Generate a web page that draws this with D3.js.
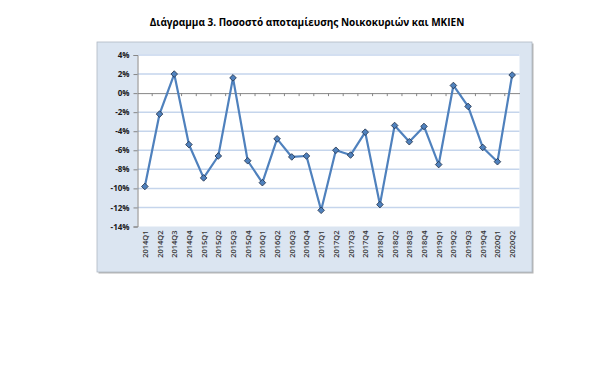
<!DOCTYPE html>
<html>
<head>
	<meta charset="utf-8">
	<script src="https://cdn.jsdelivr.net/npm/d3@7"></script>
	<style>
		html, body {
			padding: 0;
			margin: 0;
			background: #ffffff;
		}
		text {
			font-family: "Open Sans", "Noto Sans", sans-serif;
		}
	</style>
</head>
<body>
	<script>
		var width = 600, height = 377;

		// data
		var quarters = ["2014Q1", "2014Q2", "2014Q3", "2014Q4",
			"2015Q1", "2015Q2", "2015Q3", "2015Q4",
			"2016Q1", "2016Q2", "2016Q3", "2016Q4",
			"2017Q1", "2017Q2", "2017Q3", "2017Q4",
			"2018Q1", "2018Q2", "2018Q3", "2018Q4",
			"2019Q1", "2019Q2", "2019Q3", "2019Q4",
			"2020Q1", "2020Q2"];
		var savingRate = [-9.8, -2.2, 2.0, -5.4,
			-8.9, -6.6, 1.6, -7.1,
			-9.4, -4.8, -6.7, -6.6,
			-12.3, -6.0, -6.5, -4.1,
			-11.7, -3.4, -5.1, -3.5,
			-7.5, 0.8, -1.4, -5.7,
			-7.2, 1.9];
		var yTicks = [4, 2, 0, -2, -4, -6, -8, -10, -12, -14];
		var title = "Διάγραμμα 3. Ποσοστό αποταμίευσης Νοικοκυριών και ΜΚΙΕΝ";

		var svg = d3.select("body").append("svg")
			.attr("width", width)
			.attr("height", height);

		svg.append("text")
			.attr("x", 307)
			.attr("y", 26)
			.attr("text-anchor", "middle")
			.style("font-size", "10px")
			.style("font-weight", "bold")
			.attr("fill", "#000")
			.text(title);

		// outer chart frame (with a slight shadow on right/bottom)
		svg.append("rect")
			.attr("x", 98.5).attr("y", 43.5)
			.attr("width", 435).attr("height", 230)
			.attr("fill", "#b5b5b5");
		svg.append("rect")
			.attr("x", 97).attr("y", 42)
			.attr("width", 435).attr("height", 230)
			.attr("fill", "#dbe5f1")
			.attr("stroke", "#b0b8c4")
			.attr("stroke-width", 0.8);

		var plot = {left: 137.5, right: 519.5, top: 55, bottom: 226.5};

		svg.append("rect")
			.attr("x", plot.left).attr("y", plot.top - 1)
			.attr("width", plot.right - plot.left)
			.attr("height", plot.bottom - plot.top + 1)
			.attr("fill", "#ffffff");

		var x = d3.scaleBand()
			.domain(quarters)
			.range([plot.left, plot.right]);

		var y = d3.scaleLinear()
			.domain([-14, 4])
			.range([plot.bottom, plot.top]);

		// gridlines
		svg.append("g")
			.selectAll("line")
			.data(yTicks.filter(function(d) { return d !== 0 && d !== -14; }))
			.enter().append("line")
			.attr("x1", plot.left).attr("x2", plot.right)
			.attr("y1", function(d) { return y(d); })
			.attr("y2", function(d) { return y(d); })
			.attr("stroke", "#c5d5ec")
			.attr("stroke-width", 1.5);

		// y axis
		var yAxis = svg.append("g")
			.attr("transform", "translate(" + plot.left + ",0)")
			.call(d3.axisLeft(y)
				.tickValues(yTicks)
				.tickSize(4)
				.tickPadding(4)
				.tickFormat(function(d) { return d + "%"; }));
		yAxis.select(".domain").attr("stroke", "#868686");
		yAxis.selectAll(".tick line").attr("stroke", "#868686");
		yAxis.selectAll("text")
			.style("font-size", "8px")
			.style("font-weight", "bold")
			.attr("fill", "#1a1a1a");

		// x axis line at 0%
		var xAxis = svg.append("g")
			.attr("transform", "translate(0," + y(0) + ")")
			.call(d3.axisBottom(x).tickSize(0).tickFormat(""));
		xAxis.select(".domain").attr("stroke", "#868686");
		svg.append("g")
			.selectAll("line")
			.data(quarters.slice(1))
			.enter().append("line")
			.attr("x1", function(d) { return x(d); })
			.attr("x2", function(d) { return x(d); })
			.attr("y1", y(0))
			.attr("y2", y(0) + 3)
			.attr("stroke", "#868686");

		// category labels at the bottom
		svg.append("g")
			.selectAll("text")
			.data(quarters)
			.enter().append("text")
			.attr("transform", function(d) {
				return "translate(" + (x(d) + x.bandwidth() / 2 + 3) + "," + (plot.bottom + 4) + ") rotate(-90)";
			})
			.attr("text-anchor", "end")
			.style("font-size", "7.5px")
			.style("font-weight", "600")
			.attr("fill", "#333333")
			.text(function(d) { return d; });

		// series line
		var line = d3.line()
			.x(function(d, i) { return x(quarters[i]) + x.bandwidth() / 2; })
			.y(function(d) { return y(d); });

		svg.append("path")
			.datum(savingRate)
			.attr("d", line)
			.attr("fill", "none")
			.attr("stroke", "#4f81bd")
			.attr("stroke-width", 2.2)
			.attr("stroke-linejoin", "round");

		svg.append("g")
			.selectAll("path")
			.data(savingRate)
			.enter().append("path")
			.attr("d", d3.symbol().type(d3.symbolDiamond2).size(28))
			.attr("transform", function(d, i) {
				return "translate(" + (x(quarters[i]) + x.bandwidth() / 2) + "," + y(d) + ")";
			})
			.attr("fill", "#4f81bd")
			.attr("stroke", "#1f2f46")
			.attr("stroke-width", 0.8);
	</script>
</body>
</html>
